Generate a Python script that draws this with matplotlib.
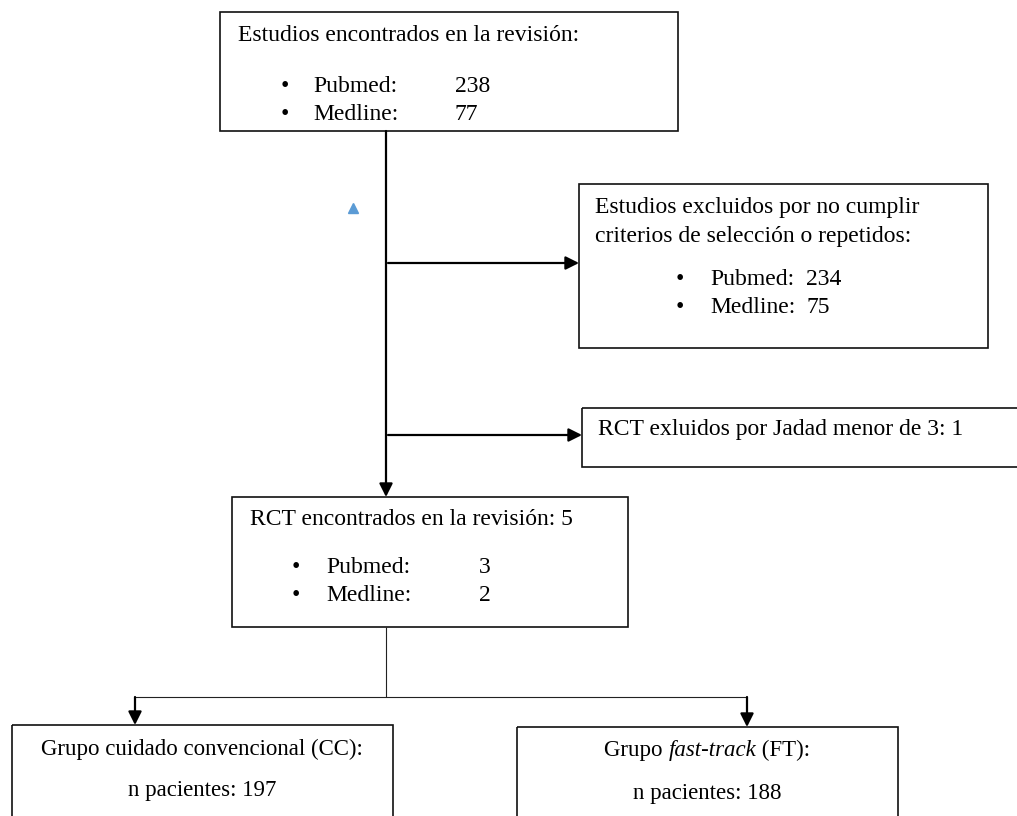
import matplotlib
matplotlib.use("Agg")
import matplotlib.pyplot as plt
from matplotlib.patches import Rectangle

# ---------------- data ----------------
sources = ["Pubmed:", "Medline:"]
found_counts = [238, 77]
excluded_counts = [234, 75]
jadad_excluded = 1
rct_counts = [3, 2]
rct_total = 5
n_cc = 197
n_ft = 188

title_found = "Estudios encontrados en la revisión:"
title_excl = ["Estudios excluidos por no cumplir", "criterios de selección o repetidos:"]
title_jadad = "RCT exluidos por Jadad menor de 3: {}"
title_rct = "RCT encontrados en la revisión: {}"
title_cc = "Grupo cuidado convencional (CC):"
title_ft = ["Grupo ", "fast-track", " (FT):"]
label_n = "n pacientes: {}"

# ---------------- figure ----------------
W, H = 1017, 816
FONT = "Liberation Serif"
FS = 17
FS_SMALL = 16.5

fig = plt.figure(figsize=(W / 100, H / 100), dpi=100)
ax = fig.add_axes([0, 0, 1, 1])
ax.set_xlim(0, W)
ax.set_ylim(H, 0)
ax.axis("off")


def box(x0, y0, x1, y1, lw=1.2):
    ax.add_patch(Rectangle((x0, y0), x1 - x0, y1 - y0, fill=False,
                           edgecolor="#111111", linewidth=lw, clip_on=True))


def txt(x, y, s, size=FS, ha="left", style="normal"):
    return ax.text(x, y, s, fontsize=size, family=FONT, ha=ha, va="baseline",
                   color="black", style=style)


def arrow(x0, y0, x1, y1, lw=1.6):
    ax.annotate("", xy=(x1, y1), xytext=(x0, y0),
                arrowprops=dict(arrowstyle="-|>", lw=lw, color="black",
                                mutation_scale=20, shrinkA=0, shrinkB=0))


def line(xs, ys, lw=0.8, color="#222222"):
    ax.plot(xs, ys, color=color, lw=lw, solid_capstyle="butt")


# Box 1: studies found
box(220, 12, 678, 131)
txt(238, 41, title_found)
for i, (s, v) in enumerate(zip(sources, found_counts)):
    y = 92 + i * 28
    txt(281, y, "•")
    txt(313, y, s)
    txt(455, y, str(v))

# main vertical line with arrow to RCT box
arrow(386, 131, 386, 497)

# decorative blue triangle
ax.plot([353], [208], marker="^", color="#5B9BD5", markersize=7, linestyle="none")

# Box 2: excluded
box(579, 184, 988, 348)
txt(595, 213, title_excl[0])
txt(595, 242, title_excl[1])
for i, (s, v) in enumerate(zip(sources, excluded_counts)):
    y = 285 + i * 28
    txt(676, y, "•")
    txt(710, y, s)
    txt(806, y, str(v))
arrow(388, 263, 579, 263)

# Box 3: Jadad excluded
box(582, 408, 1040, 467)
txt(598, 435, title_jadad.format(jadad_excluded))
arrow(388, 435, 582, 435)

# Box RCT
box(232, 497, 628, 627)
txt(250, 525, title_rct.format(rct_total))
for i, (s, v) in enumerate(zip(sources, rct_counts)):
    y = 573 + i * 28
    txt(292, y, "•")
    txt(326, y, s)
    txt(479, y, str(v))

# split connector
line([386, 386], [627, 697])
line([135, 747], [697, 697])
arrow(135, 697, 135, 725)
arrow(747, 697, 747, 727)

# Box CC
box(12, 725, 393, 840)
txt(202, 755, title_cc, size=FS_SMALL, ha="center")
txt(202, 796, label_n.format(n_cc), size=FS_SMALL, ha="center")

# Box FT (mixed italic title)
box(517, 727, 898, 840)
fig.canvas.draw()
r = fig.canvas.get_renderer()
parts = []
for s, st in zip(title_ft, ["normal", "italic", "normal"]):
    t = txt(0, 756, s, size=FS_SMALL, style=st)
    parts.append(t)
widths = []
inv = ax.transData.inverted()
for t in parts:
    bb = t.get_window_extent(renderer=r)
    p0 = inv.transform((bb.x0, bb.y0))
    p1 = inv.transform((bb.x1, bb.y0))
    widths.append(p1[0] - p0[0])
total = sum(widths)
x = 707.5 - total / 2
for t, w in zip(parts, widths):
    t.set_x(x)
    x += w
txt(707.5, 799, label_n.format(n_ft), size=FS_SMALL, ha="center")

fig.savefig("out.png", dpi=100, facecolor="white")
